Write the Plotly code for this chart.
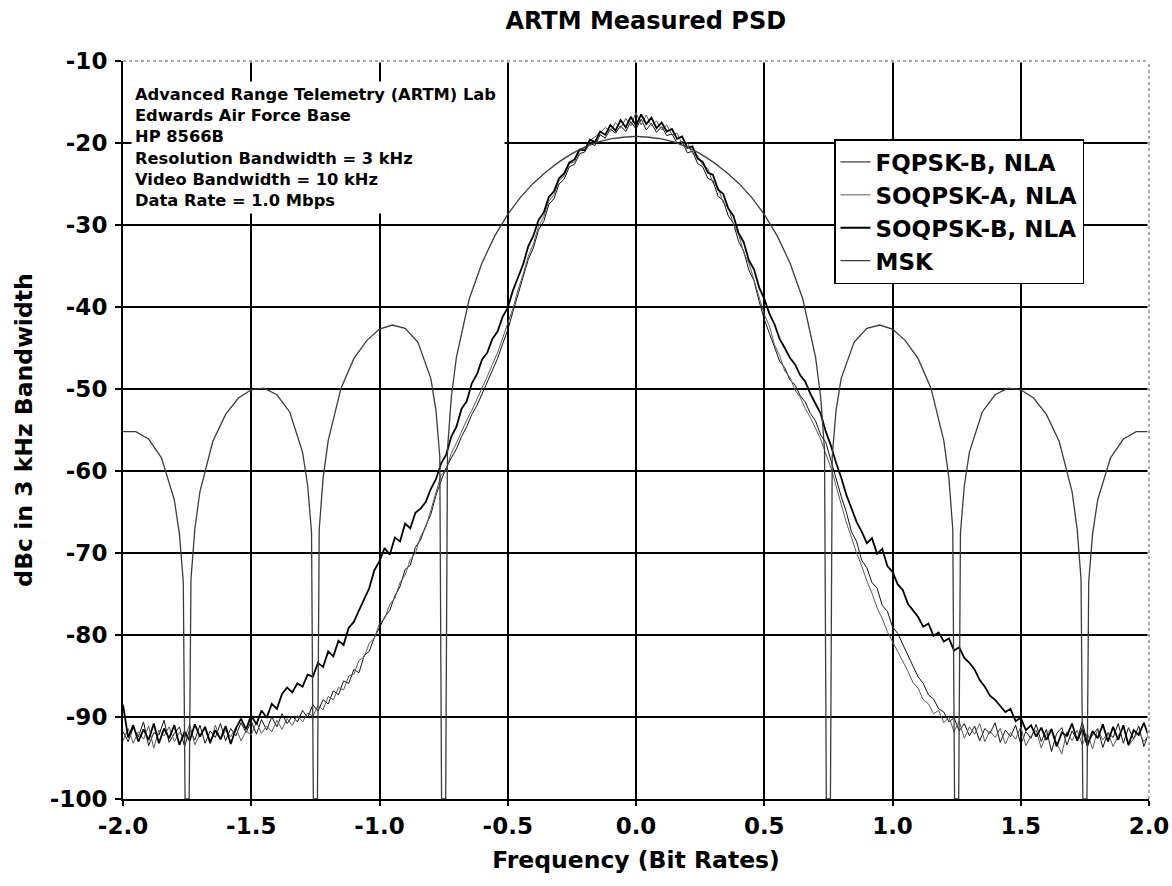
import numpy as np
import plotly.graph_objects as go

# ---------------- data ----------------
FREQ_START = -2.0   # bit rates
FREQ_END = 2.0      # measured traces sampled every 0.02 bit rates

SOQPSK_B_NLA = [
    -88.5, -92.5, -91.0, -93.0, -91.5, -92.8, -90.8, -93.2, -91.4, -92.6, -91.0, -93.4,
    -91.8, -92.9, -90.9, -92.4, -91.2, -93.1, -91.6, -92.7, -91.1, -93.3, -91.4,
    -90.2, -91.5, -89.8, -90.9, -89.2, -90.1, -88.4, -89.0, -87.2, -86.4, -87.0, -85.9,
    -86.3, -84.8, -85.1, -83.4, -83.9, -82.0, -82.6, -80.7, -81.2, -79.1, -78.4, -77.0,
    -75.6, -74.3, -72.1, -71.0,
    -69.4, -70.2, -68.1, -68.6, -66.4, -67.0, -65.1, -64.6, -63.8, -62.2, -61.0, -59.1,
    -58.0, -55.8, -54.6, -52.4, -51.5, -49.3, -48.2, -46.4, -45.6, -43.9, -43.0, -41.2,
    -40.1, -38.0, -36.4, -34.8, -32.6, -31.3, -29.4, -28.5, -26.6, -25.9, -24.3, -23.7,
    -22.4, -22.0, -20.8, -20.9, -19.6, -19.9, -18.6, -19.0, -17.8, -18.5, -17.2, -18.1,
    -16.8, -17.9,
    -16.5, -17.7, -16.9, -18.2, -17.5, -18.6, -18.3, -19.5, -19.2, -20.6, -20.4, -21.9,
    -22.3, -23.6, -23.9, -25.7, -26.2, -28.0, -28.9, -31.0, -32.1, -34.3, -35.4, -37.6,
    -39.0, -40.8, -42.1, -43.9, -45.0, -46.2, -47.0, -48.3, -49.1, -50.6, -51.8, -53.0,
    -55.2, -56.9, -59.0, -60.8, -62.9, -64.6, -66.2, -67.4, -68.8, -68.2, -70.1, -69.5,
    -71.6, -72.3,
    -73.8, -74.5, -76.2, -77.0, -77.8, -79.0, -78.6, -80.1, -79.7, -80.8, -80.4, -81.9,
    -81.5, -82.8, -83.4, -84.2, -85.5, -86.3, -87.4, -87.9, -88.6, -89.4, -89.0, -90.5,
    -90.1, -91.6, -91.0, -92.4, -91.3, -92.8, -91.5, -93.6, -91.9, -92.3, -90.8, -92.9,
    -91.4, -93.5, -91.7, -92.6, -90.9, -93.0, -91.2, -92.8, -91.0, -93.4, -91.6, -92.2,
    -90.7, -92.5,
]

FQPSK_B_NLA = [
    -91.8, -93.0, -91.3, -92.4, -90.6, -93.5, -91.9, -92.2, -90.4, -93.1, -92.0, -91.2,
    -93.6, -91.5, -92.8, -91.0, -93.2, -91.7, -92.5, -90.8, -92.9, -91.4, -92.3,
    -90.7, -91.9, -90.5, -92.1, -90.3, -91.6, -90.0, -91.2, -89.6, -90.8, -89.9, -90.6,
    -89.2, -90.1, -88.5, -89.3, -87.9, -88.4, -86.8, -87.3, -85.6, -85.9, -84.2, -84.6,
    -82.5, -82.0, -80.3, -79.1,
    -77.8, -77.0, -75.2, -74.1, -72.0, -71.5, -69.3, -68.4, -66.7, -65.3, -63.0, -61.2,
    -59.6, -58.4, -57.3, -55.8, -54.6, -53.1, -52.0, -50.6, -49.2, -47.8, -46.3, -44.5,
    -42.8, -40.6, -38.4, -36.5, -34.2, -32.8, -30.6, -29.6, -27.5, -26.8, -25.0, -24.4,
    -22.9, -22.6, -21.3, -21.1, -20.0, -20.3, -19.0, -19.4, -18.3, -18.8, -17.9, -18.6,
    -17.4, -18.3,
    -17.1, -18.4, -17.6, -18.7, -18.0, -19.1, -18.9, -20.0, -19.8, -21.2, -21.0, -22.5,
    -22.9, -24.3, -24.6, -26.5, -27.0, -28.9, -29.8, -32.0, -33.2, -35.5, -36.8, -39.3,
    -41.5, -43.2, -45.0, -46.6, -47.4, -48.9, -49.5, -50.8, -51.6, -53.0, -53.9, -55.6,
    -56.5, -58.8, -60.9, -63.1, -65.0, -67.4, -68.6, -70.9, -71.8, -73.6, -74.3, -76.4,
    -77.1, -79.0,
    -79.8, -81.2, -82.5, -83.8, -85.1, -85.9, -87.3, -87.8, -89.0, -89.4, -90.6, -90.1,
    -91.7, -90.8, -92.3, -91.1, -92.9, -91.4, -92.0, -90.7, -93.1, -91.6, -92.4, -91.0,
    -93.3, -91.8, -92.6, -90.9, -93.0, -91.5, -94.2, -92.0, -91.3, -93.4, -91.7, -92.8,
    -90.6, -93.1, -92.2, -91.4, -93.7, -91.9, -92.5, -90.8, -93.2, -91.3, -92.7, -91.1,
    -93.6, -91.9,
]

SOQPSK_A_NLA = [
    -92.9, -91.4, -93.2, -91.8, -92.7, -91.1, -93.8, -91.6, -92.3, -91.2, -93.0, -91.9,
    -92.6, -90.9, -93.4, -92.1, -91.5, -93.3, -91.0, -92.8, -91.6, -92.4, -91.3,
    -92.9, -91.7, -92.2, -90.6, -92.0, -91.1, -91.8, -90.4, -91.5, -90.2, -91.0, -89.8,
    -90.6, -89.5, -89.9, -88.6, -89.1, -87.5, -87.9, -86.4, -86.7, -85.0, -84.8, -83.1,
    -82.7, -81.0, -80.4, -78.6,
    -78.0, -76.3, -75.5, -73.6, -72.7, -70.8, -70.0, -68.0, -66.9, -64.8, -62.6, -60.5,
    -59.9, -57.8, -56.6, -55.1, -53.8, -52.6, -51.3, -49.9, -48.5, -47.0, -45.6, -43.8,
    -42.1, -40.2, -37.9, -36.0, -33.8, -32.3, -30.2, -29.0, -27.1, -26.3, -24.6, -24.0,
    -22.5, -22.3, -20.9, -20.6, -19.7, -19.2, -18.8, -18.1, -18.6, -17.5, -18.2, -17.0,
    -17.9, -16.3,
    -17.8, -16.6, -17.9, -17.3, -18.4, -17.8, -19.0, -18.8, -20.1, -19.9, -21.3, -21.5,
    -22.7, -23.1, -24.9, -25.4, -27.3, -27.9, -29.9, -31.1, -33.4, -34.6, -36.7, -38.5,
    -40.9, -42.3, -44.6, -45.9, -47.8, -48.6, -50.1, -51.0, -52.4, -53.5, -54.8, -56.1,
    -57.9, -59.6, -61.8, -64.0, -66.3, -68.1, -70.0, -71.6, -73.4, -74.9, -76.7, -78.0,
    -79.6, -80.8,
    -82.0, -83.3, -84.4, -85.8, -86.5, -87.9, -88.4, -89.6, -89.2, -90.7, -90.0, -91.8,
    -90.5, -92.6, -91.2, -92.1, -90.8, -93.0, -91.7, -92.5, -91.4, -93.3, -91.9, -92.7,
    -91.2, -93.5, -92.3, -91.6, -93.8, -92.1, -91.4, -93.2, -94.5, -91.8, -92.9, -91.6,
    -93.4, -92.0, -93.9, -91.5, -92.8, -91.9, -93.6, -92.3, -91.2, -93.5, -92.6, -91.8,
    -93.0, -92.2,
]

MSK_FREQ = [
    -2.00, -1.95, -1.90, -1.85, -1.80, -1.78, -1.765, -1.758, -1.742, -1.735, -1.72, -1.70,
    -1.65, -1.60, -1.55, -1.50, -1.45, -1.40, -1.35, -1.30, -1.28, -1.265, -1.258, -1.242,
    -1.235, -1.22, -1.20, -1.15, -1.10, -1.05, -1.00, -0.95, -0.90, -0.85, -0.80, -0.78,
    -0.765, -0.758, -0.742, -0.735, -0.72, -0.70, -0.65, -0.60, -0.55, -0.50, -0.45, -0.40,
    -0.35, -0.30, -0.25, -0.20, -0.15, -0.10, -0.05, 0.00,
    0.05, 0.10, 0.15, 0.20, 0.25, 0.30, 0.35, 0.40, 0.45, 0.50, 0.55, 0.60, 0.65, 0.70,
    0.72, 0.735, 0.742, 0.758, 0.765, 0.78, 0.80, 0.85, 0.90, 0.95, 1.00, 1.05, 1.10, 1.15,
    1.20, 1.22, 1.235, 1.242, 1.258, 1.265, 1.28, 1.30, 1.35, 1.40, 1.45, 1.50, 1.55, 1.60,
    1.65, 1.70, 1.72, 1.735, 1.742, 1.758, 1.765, 1.78, 1.80, 1.85, 1.90, 1.95, 2.00,
]
MSK_DB = [
    -55.2, -55.2, -56.1, -58.4, -63.5, -67.7, -73.5, -100.0, -100.0, -73.2, -67.1, -62.5,
    -56.4, -53.1, -51.1, -50.1, -49.9, -50.7, -52.8, -57.7, -61.8, -67.5, -100.0, -100.0,
    -67.1, -60.9, -56.3, -49.9, -46.3, -44.1, -42.7, -42.2, -42.6, -44.3, -48.7, -52.6,
    -58.2, -100.0, -100.0, -57.4, -51.0, -46.1, -39.0, -34.6, -31.3, -28.7, -26.6, -24.9,
    -23.5, -22.3, -21.3, -20.5, -19.9, -19.5, -19.3, -19.2,
    -19.3, -19.5, -19.9, -20.5, -21.3, -22.3, -23.5, -24.9, -26.6, -28.7, -31.3, -34.6,
    -39.0, -46.1,
    -51.0, -57.4, -100.0, -100.0, -58.2, -52.6, -48.7, -44.3, -42.6, -42.2, -42.7, -44.1,
    -46.3, -49.9,
    -56.3, -60.9, -67.1, -100.0, -100.0, -67.5, -61.8, -57.7, -52.8, -50.7, -49.9, -50.1,
    -51.1, -53.1,
    -56.4, -62.5, -67.1, -73.2, -100.0, -100.0, -73.5, -67.7, -63.5, -58.4, -56.1, -55.2,
    -55.2,
]

X_TICKS = [-2.0, -1.5, -1.0, -0.5, 0.0, 0.5, 1.0, 1.5, 2.0]
X_TICK_LABELS = ["-2.0", "-1.5", "-1.0", "-0.5", "0.0", "0.5", "1.0", "1.5", "2.0"]
Y_TICKS = [-100, -90, -80, -70, -60, -50, -40, -30, -20, -10]
Y_TICK_LABELS = ["-100", "-90", "-80", "-70", "-60", "-50", "-40", "-30", "-20", "-10"]

INFO_LINES = [
    "Advanced Range Telemetry (ARTM) Lab",
    "Edwards Air Force Base",
    "HP 8566B",
    "Resolution Bandwidth = 3 kHz",
    "Video Bandwidth = 10 kHz",
    "Data Rate = 1.0 Mbps",
]


def freq_axis(values):
    return np.linspace(FREQ_START, FREQ_END, len(values))


FONT = "DejaVu Sans, Arial, sans-serif"

fig = go.Figure()
series = [
    ("FQPSK-B, NLA", FQPSK_B_NLA, "#111111", 1.0),
    ("SOQPSK-A, NLA", SOQPSK_A_NLA, "#5a5a5a", 1.0),
    ("SOQPSK-B, NLA", SOQPSK_B_NLA, "#000000", 1.8),
]
for name, vals, color, width in series:
    fig.add_trace(go.Scatter(x=freq_axis(vals), y=vals, mode="lines", name=name,
                             line=dict(color=color, width=width)))
fig.add_trace(go.Scatter(x=MSK_FREQ, y=MSK_DB, mode="lines", name="MSK",
                         line=dict(color="#3c3c3c", width=1.3)))

PLOT_L, PLOT_R, PLOT_T, PLOT_B = 123, 1149, 61, 799
PW, PH = PLOT_R - PLOT_L, PLOT_B - PLOT_T

fig.update_layout(
    width=1172, height=886,
    margin=dict(l=PLOT_L, r=1172 - PLOT_R, t=PLOT_T, b=886 - PLOT_B, autoexpand=False),
    paper_bgcolor="white", plot_bgcolor="white",
    font=dict(family=FONT, color="black"),
    title=dict(text="ARTM Measured PSD", x=0.551, xanchor="center", xref="container",
               y=1 - 21 / 886, yanchor="middle", yref="container",
               font=dict(size=24, weight="bold", family=FONT, color="black")),
    showlegend=True,
    legend=dict(x=(834 - PLOT_L) / PW, y=(PLOT_B - 139) / PH, xanchor="left", yanchor="top",
                bgcolor="white", bordercolor="black", borderwidth=1.5,
                font=dict(size=23, weight="bold", family=FONT, color="black"),
                itemwidth=30, tracegroupgap=0),
    shapes=[
        dict(type="line", xref="paper", yref="paper", x0=0, x1=1, y0=1, y1=1,
             line=dict(color="white", width=3), layer="above"),
        dict(type="line", xref="paper", yref="paper", x0=1, x1=1, y0=0, y1=1,
             line=dict(color="white", width=3), layer="above"),
        dict(type="line", xref="paper", yref="paper", x0=0, x1=1, y0=1, y1=1,
             line=dict(color="#555555", width=1, dash="dot"), layer="above"),
        dict(type="line", xref="paper", yref="paper", x0=1, x1=1, y0=0, y1=1,
             line=dict(color="#555555", width=1, dash="dot"), layer="above"),
    ],
)

fig.add_annotation(
    xref="paper", yref="paper", x=(131 - PLOT_L) / PW, y=(PLOT_B - 81) / PH,
    xanchor="left", yanchor="top", align="left", showarrow=False,
    text="<br>".join(INFO_LINES), bgcolor="white", width=366, borderpad=3,
    font=dict(size=16.3, weight="bold", family=FONT, color="black"),
)

fig.update_xaxes(
    range=[-2, 2], tickmode="array", tickvals=X_TICKS, ticktext=X_TICK_LABELS,
    showgrid=True, gridcolor="black", gridwidth=1.5, zeroline=False,
    showline=True, linecolor="black", linewidth=2,
    ticks="outside", ticklen=5, tickwidth=2, tickcolor="black", ticklabelstandoff=0,
    tickfont=dict(size=23, weight="bold", family=FONT, color="black"),
    title=dict(text="Frequency (Bit Rates)", standoff=14,
               font=dict(size=23.5, weight="bold", family=FONT, color="black")),
)
fig.update_yaxes(
    range=[-100, -10], tickmode="array", tickvals=Y_TICKS, ticktext=Y_TICK_LABELS,
    showgrid=True, gridcolor="black", gridwidth=1.5, zeroline=False,
    showline=True, linecolor="black", linewidth=2,
    ticks="outside", ticklen=6, tickwidth=2, tickcolor="black", ticklabelstandoff=3,
    tickfont=dict(size=23, weight="bold", family=FONT, color="black"),
    title=dict(text="dBc in 3 kHz Bandwidth", standoff=11,
               font=dict(size=23.5, weight="bold", family=FONT, color="black")),
)

fig.write_html("out.html", config={"displayModeBar": False},
               post_script="document.body.style.margin='0px';")
